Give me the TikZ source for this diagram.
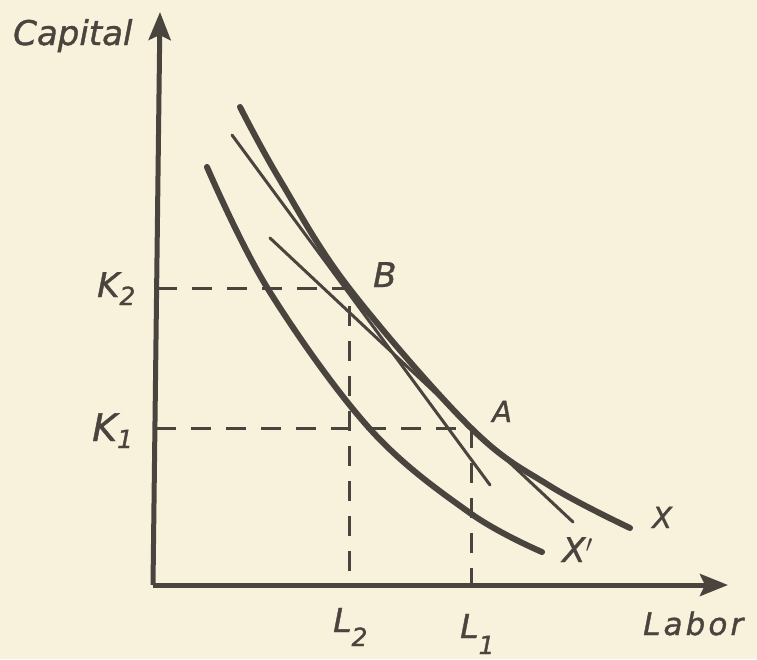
\documentclass[tikz,border=0pt]{standalone}
\usepackage{fontspec}
\setmainfont[FakeBold=1.2]{DejaVu Sans}
\usetikzlibrary{arrows.meta}
\definecolor{paper}{HTML}{F8F1DC}
\definecolor{ink}{HTML}{4A443E}
\newcommand{\mysub}[2]{\raisebox{-#1pt}{\fontsize{25}{25}\selectfont #2}}
\tikzset{
 axis/.style={draw=ink,line width=5pt,-{Stealth[length=28pt,width=22pt,inset=5pt]}},
 heavy/.style={draw=ink,line width=6pt,line cap=round},
 thinline/.style={draw=ink,line width=3pt,line cap=round},
 guide/.style={draw=ink,line width=3pt,dash pattern=on 20pt off 15pt},
 lab/.style={text=ink,inner sep=0pt,font=\fontsize{#1}{#1}\selectfont\itshape}
}
\begin{document}
\begin{tikzpicture}[x=1pt,y=-1pt]
\fill[paper] (0,0) rectangle (757,659);
\useasboundingbox (0,0) rectangle (757,659);
% key points
\coordinate (O) at (153,585);
\coordinate (ytip) at (160,12);
\coordinate (xtip) at (728,585);
\coordinate (B) at (349,288);
\coordinate (A) at (471,428);
\coordinate (k2) at (157,288);
\coordinate (k1) at (156,428);
\coordinate (l2) at (349,585);
\coordinate (l1) at (471,585);
% guides
\draw[guide] (k2) -- (B) -- (l2);
\draw[guide] (k1) -- (A) -- (l1);
% axes
\draw[axis] (O) -- (ytip);
\draw[axis] (O) -- (xtip);
% curves
\draw[heavy] plot[smooth,tension=0.6] coordinates {(240,107) (280,180) (B) (A) (550,486) (630,528)};
\draw[heavy] plot[smooth,tension=0.6] coordinates {(207,167) (268,289) (370,429) (470,513) (542,552)};
% tangents
\coordinate (tb1) at (232,135);
\coordinate (tb2) at (490,485);
\coordinate (ta1) at (270,238);
\coordinate (ta2) at (573,522);
\draw[thinline] (tb1) -- (tb2);
\draw[thinline] (ta1) -- (ta2);
% labels
\node[lab=34,anchor=base west] (cap) at (13,45) {Capital};
\node[lab=31,anchor=base west] (lab) at (643,635) {\addfontfeature{LetterSpace=10}Labor};
\node[lab=34,anchor=base west] (K2) at (97,297) {K\mysub{8}{2}};
\node[lab=38,anchor=base west] (K1) at (92,441) {K\mysub{7}{1}};
\node[lab=33,anchor=base west] (L2) at (333,632) {L\mysub{14}{2}};
\node[lab=33,anchor=base west] (L1) at (460,638) {L\mysub{16}{1}};
\node[lab=34,anchor=base west] (Bl) at (373,287) {B};
\node[lab=29,anchor=base west] (Al) at (492,422) {A};
\node[lab=29,anchor=base west] (Xl) at (652,528) {X};
\node[lab=34,anchor=base west] (Xp) at (562,562) {X$'$};
\end{tikzpicture}
\end{document}
